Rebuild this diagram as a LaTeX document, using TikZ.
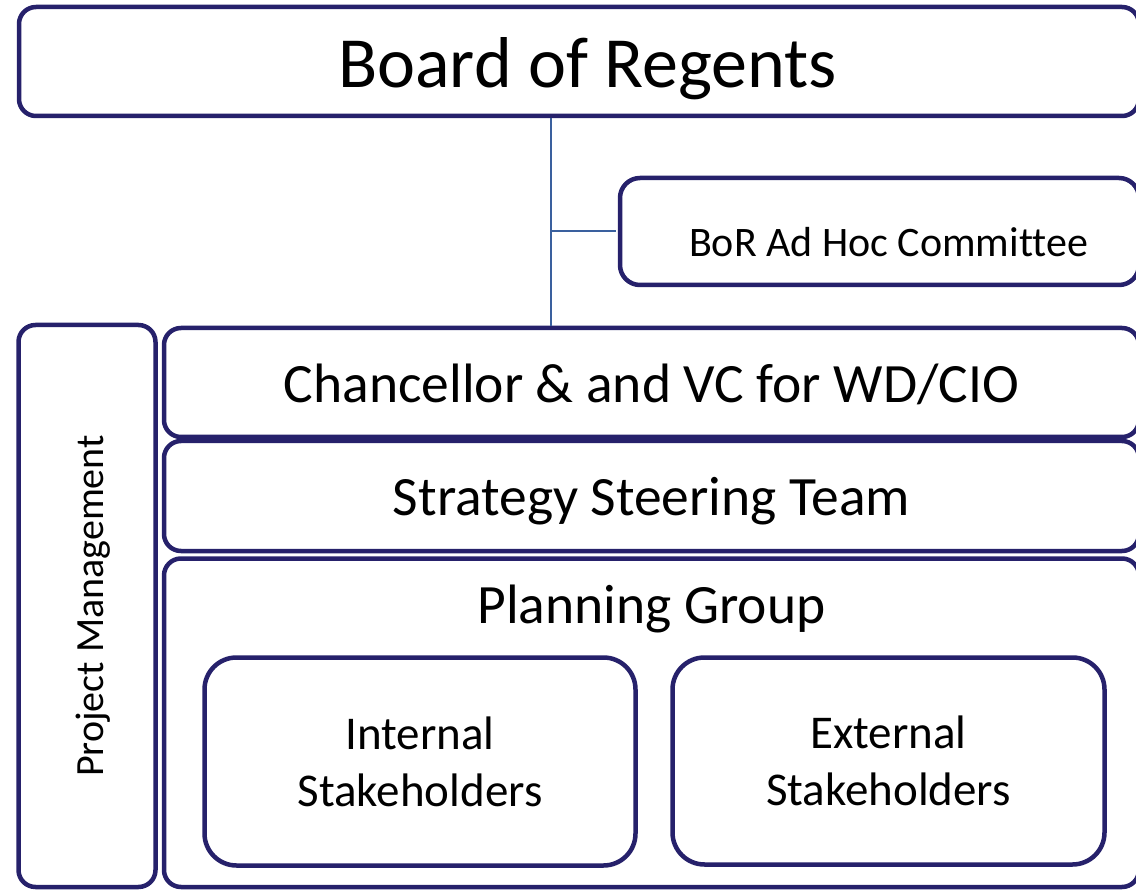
\documentclass[tikz,border=0pt]{standalone}
\usepackage{fontspec}
\setmainfont{Carlito}[Ligatures=NoCommon]
\definecolor{navy}{RGB}{38,33,107}
\definecolor{linkblue}{RGB}{58,96,158}

\begin{document}
\begin{tikzpicture}[x=1pt,y=-1pt,
    box/.style={draw=navy, fill=white, line width=4.5pt, rounded corners=17pt, inner sep=0pt},
    bar/.style={box, minimum width=975pt, text height=40pt, text depth=0pt},
    group/.style={box, rounded corners=32pt, align=center, font=\fontsize{47}{57}\selectfont},
    link/.style={draw=linkblue, line width=2pt}]
    \clip (0,0) rectangle (1136,890);
    % board and its committee
    \node[box, minimum width=1120pt, minimum height=109pt] (board) at (579,61.5) {};
    \node[anchor=base, font=\fontsize{72}{86}\selectfont] (board-t) at (587.5,88) {Board of Regents};
    \node[box, minimum width=519pt, minimum height=107pt, rounded corners=20pt] (comm) at (879.5,231.5) {};
    \node[anchor=base, font=\fontsize{42}{50}\selectfont] (comm-t) at (888.5,257) {BoR Ad Hoc Committee};
    % project management runs down the left side
    \node[box, rotate=90, minimum width=562pt, minimum height=137pt, text height=32pt, text depth=0pt,
          font=\fontsize{40}{48}\selectfont] (pm) at (87,606) {Project Management};
    % stacked bars
    \node[bar, minimum height=109pt, font=\fontsize{55.5}{66}\selectfont] (chan) at (651.5,382.5) {Chancellor \& and VC for WD/CIO};
    \node[bar, minimum height=110pt, font=\fontsize{55.5}{66}\selectfont] (steer) at (651.5,496) {Strategy Steering Team};
    \node[box, minimum width=975pt, minimum height=328.5pt] (plan) at (651.5,722.75) {};
    \node[anchor=base, font=\fontsize{55.5}{66}\selectfont] (plan-t) at (651.5,623) {Planning Group};
    \node[group, minimum width=431pt, minimum height=208pt] (internal) at (420,761.5) {Internal\\Stakeholders};
    \node[group, minimum width=432pt, minimum height=207pt] (external) at (888.5,761) {External\\Stakeholders};
    % reporting line
    \coordinate (spine-top) at (551,118);
    \coordinate (spine-bot) at (551,326);
    \draw[link] (spine-top) -- (spine-bot);
    \draw[link, shorten >=2pt] (spine-top |- comm.west) -- (comm.west);
\end{tikzpicture}
\end{document}
